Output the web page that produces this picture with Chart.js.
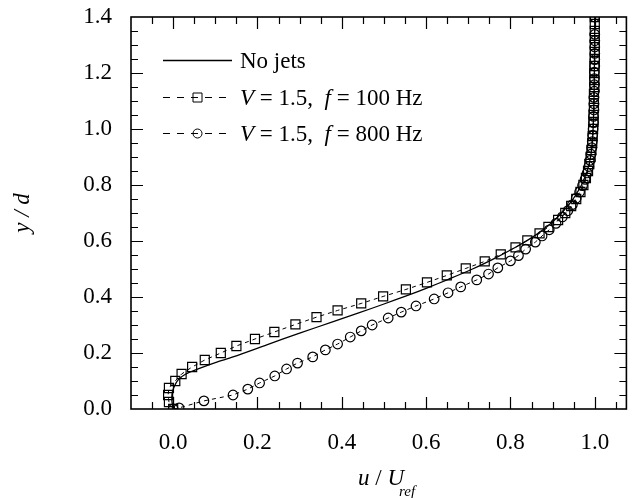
<!DOCTYPE html>
<html>
<head>
<meta charset="utf-8">
<script src="https://cdn.jsdelivr.net/npm/chart.js@4/dist/chart.umd.min.js"></script>
<style>
  html, body { margin: 0; padding: 0; background: #fff; }
  #wrap { width: 634px; height: 498px; }
</style>
</head>
<body>
<div id="wrap"><canvas id="profileChart" width="634" height="498"></canvas></div>
<script>
// tick labels
const xTicks = [0.0, 0.2, 0.4, 0.6, 0.8, 1.0];
const yTicks = [0.0, 0.2, 0.4, 0.6, 0.8, 1.0, 1.2, 1.4];

// No jets (solid line)
const noJetsU = [0.000, -0.003, -0.002, 0.004, 0.012, 0.030, 0.064, 0.100, 0.142, 0.222, 0.300, 0.378, 0.440, 0.500, 0.553, 0.600, 0.654, 0.710, 0.765, 0.810, 0.843, 0.870, 0.895, 0.915, 0.930, 0.945, 0.955, 0.965, 0.972, 0.983, 0.990, 0.994, 0.996, 0.998, 0.999, 1.000];
const noJetsY = [0.000, 0.030, 0.060, 0.085, 0.104, 0.125, 0.146, 0.166, 0.186, 0.229, 0.271, 0.311, 0.343, 0.375, 0.404, 0.431, 0.464, 0.500, 0.540, 0.576, 0.605, 0.632, 0.662, 0.690, 0.715, 0.742, 0.765, 0.790, 0.812, 0.855, 0.900, 0.950, 1.000, 1.100, 1.200, 1.400];

// V = 1.5, f = 100 Hz (squares)
const f100U = [0.000, -0.010, -0.012, -0.010, 0.005, 0.020, 0.045, 0.075, 0.113, 0.150, 0.194, 0.240, 0.290, 0.340, 0.390, 0.446, 0.498, 0.552, 0.602, 0.649, 0.694, 0.739, 0.777, 0.812, 0.840, 0.869, 0.890, 0.913, 0.930, 0.944, 0.956, 0.966, 0.973, 0.979, 0.984, 0.987, 0.990, 0.992, 0.994, 0.995, 0.996, 0.997, 0.997, 0.998, 0.998, 0.998, 0.999, 0.999, 0.999, 0.999, 1.000, 1.000, 1.000, 1.000, 1.000, 1.000, 1.000];
const f100Y = [0.000, 0.025, 0.050, 0.075, 0.100, 0.125, 0.150, 0.175, 0.200, 0.225, 0.250, 0.275, 0.302, 0.328, 0.352, 0.377, 0.402, 0.427, 0.452, 0.477, 0.502, 0.527, 0.552, 0.577, 0.602, 0.627, 0.650, 0.675, 0.700, 0.725, 0.750, 0.775, 0.800, 0.825, 0.850, 0.875, 0.900, 0.925, 0.950, 0.975, 1.000, 1.025, 1.050, 1.075, 1.100, 1.125, 1.150, 1.175, 1.200, 1.225, 1.250, 1.275, 1.300, 1.325, 1.350, 1.375, 1.400];

// V = 1.5, f = 800 Hz (circles)
const f800U = [0.000, 0.014, 0.073, 0.142, 0.177, 0.205, 0.241, 0.269, 0.295, 0.331, 0.361, 0.390, 0.420, 0.446, 0.472, 0.510, 0.541, 0.576, 0.619, 0.652, 0.682, 0.720, 0.748, 0.770, 0.800, 0.819, 0.836, 0.859, 0.875, 0.892, 0.908, 0.923, 0.936, 0.947, 0.956, 0.964, 0.971, 0.977, 0.982, 0.986, 0.989, 0.991, 0.993, 0.994, 0.995, 0.996, 0.997, 0.997, 0.998, 0.998, 0.998, 0.999, 0.999, 0.999, 0.999, 1.000, 1.000, 1.000, 1.000, 1.000, 1.000, 1.000];
const f800Y = [0.000, 0.004, 0.029, 0.050, 0.071, 0.093, 0.118, 0.143, 0.164, 0.186, 0.211, 0.232, 0.257, 0.279, 0.300, 0.325, 0.346, 0.368, 0.393, 0.415, 0.436, 0.461, 0.482, 0.504, 0.529, 0.548, 0.571, 0.596, 0.618, 0.640, 0.663, 0.686, 0.708, 0.730, 0.753, 0.775, 0.798, 0.820, 0.843, 0.866, 0.888, 0.910, 0.933, 0.955, 0.978, 1.000, 1.023, 1.045, 1.068, 1.090, 1.113, 1.135, 1.158, 1.180, 1.203, 1.225, 1.248, 1.270, 1.293, 1.315, 1.338, 1.400];

const legendLabels = ["No jets", "100 Hz", "800 Hz"];

const SERIF = "'Liberation Serif', 'Times New Roman', serif";

function toPoints(us, ys) {
  return us.map((u, i) => ({ x: u, y: ys[i] }));
}

// box + inward ticks on all four sides
const frameTicks = {
  id: "frameTicks",
  afterDraw(chart) {
    const ctx = chart.ctx;
    const a = chart.chartArea;
    const xs = chart.scales.x;
    const ys = chart.scales.y;
    ctx.save();
    ctx.strokeStyle = "#000";
    ctx.lineWidth = 1.6;
    ctx.strokeRect(a.left, a.top, a.right - a.left, a.bottom - a.top);
    ctx.lineWidth = 1.2;
    ctx.beginPath();
    for (let v = -0.1; v <= 1.0751; v += 0.05) {
      const val = Math.round(v * 100) / 100;
      const major = xTicks.some(t => Math.abs(t - val) < 1e-6);
      const len = major ? 12 : 7;
      const px = Math.round(xs.getPixelForValue(val)) + 0.5;
      if (px <= a.left + 1 || px >= a.right - 1) continue;
      ctx.moveTo(px, a.bottom); ctx.lineTo(px, a.bottom - len);
      ctx.moveTo(px, a.top); ctx.lineTo(px, a.top + len);
    }
    for (let v = 0; v <= 1.4001; v += 0.05) {
      const val = Math.round(v * 100) / 100;
      const major = yTicks.some(t => Math.abs(t - val) < 1e-6);
      const len = major ? 12 : 7;
      const py = Math.round(ys.getPixelForValue(val)) + 0.5;
      if (py <= a.top + 1 || py >= a.bottom - 1) continue;
      ctx.moveTo(a.left, py); ctx.lineTo(a.left + len, py);
      ctx.moveTo(a.right, py); ctx.lineTo(a.right - len, py);
    }
    ctx.stroke();
    ctx.restore();
  }
};

// legend + x title drawn with mixed italic text
const textBits = {
  id: "textBits",
  afterDraw(chart) {
    const ctx = chart.ctx;
    ctx.save();
    ctx.fillStyle = "#000";
    ctx.strokeStyle = "#000";
    ctx.textBaseline = "alphabetic";
    ctx.textAlign = "left";

    const x0 = 163, x1 = 232, tx = 240;
    const rows = [60, 97, 133];

    // row 1: solid
    ctx.lineWidth = 1.3;
    ctx.setLineDash([]);
    ctx.beginPath(); ctx.moveTo(x0, rows[0] + 0.5); ctx.lineTo(x1, rows[0] + 0.5); ctx.stroke();

    // rows 2, 3: dashed with marker
    for (let r = 1; r < 3; r++) {
      const y = rows[r] + 0.5;
      ctx.lineWidth = 1;
      ctx.setLineDash([7, 7]);
      ctx.beginPath(); ctx.moveTo(x0, y); ctx.lineTo(x1, y); ctx.stroke();
      ctx.setLineDash([]);
      const cx = (x0 + x1) / 2;
      ctx.beginPath();
      if (r === 1) ctx.rect(cx - 4.5, y - 4.5, 9, 9);
      else ctx.arc(cx, y, 4.5, 0, Math.PI * 2);
      ctx.stroke();
    }

    const up = "23px " + SERIF;
    const it = "italic 23px " + SERIF;
    ctx.font = up;
    ctx.fillText(legendLabels[0], tx, rows[0] + 8);

    function parts(list, x, y) {
      list.forEach(([txt, font]) => {
        ctx.font = font;
        ctx.fillText(txt, x, y);
        x += ctx.measureText(txt).width;
      });
    }
    parts([["V", it], [" = 1.5,  ", up], ["f", it], [" = " + legendLabels[1], up]], tx, rows[1] + 8);
    parts([["V", it], [" = 1.5,  ", up], ["f", it], [" = " + legendLabels[2], up]], tx, rows[2] + 8);

    // x axis title: u / U_ref
    parts([["u", it], [" / ", up], ["U", it]], 358, 485);
    ctx.font = "italic 15px " + SERIF;
    ctx.fillText("ref", 399, 496);

    ctx.restore();
  }
};

const ctx = document.getElementById("profileChart").getContext("2d");

const profileChart = new Chart(ctx, {
  type: "scatter",
  data: {
    datasets: [
      {
        label: legendLabels[0],
        data: toPoints(noJetsU, noJetsY),
        showLine: true,
        borderColor: "#000",
        borderWidth: 1.3,
        pointRadius: 0,
        tension: 0.3,
      },
      {
        label: legendLabels[1],
        data: toPoints(f100U, f100Y),
        showLine: true,
        borderColor: "#000",
        borderWidth: 1,
        borderDash: [4, 4],
        pointStyle: "rect",
        pointRadius: 6.4,
        pointBorderWidth: 1.2,
        pointBorderColor: "#000",
        pointBackgroundColor: "rgba(0,0,0,0)",
      },
      {
        label: legendLabels[2],
        data: toPoints(f800U, f800Y),
        showLine: true,
        borderColor: "#000",
        borderWidth: 1,
        borderDash: [4, 4],
        pointStyle: "circle",
        pointRadius: 4.8,
        pointBorderWidth: 1.2,
        pointBorderColor: "#000",
        pointBackgroundColor: "rgba(0,0,0,0)",
      },
    ],
  },
  options: {
    responsive: false,
    animation: false,
    layout: { padding: { top: 17, right: 5, left: 0, bottom: 0 } },
    plugins: {
      legend: { display: false },
      tooltip: { enabled: false },
    },
    scales: {
      x: {
        type: "linear",
        min: -0.1,
        max: 1.075,
        grid: { display: false, drawTicks: false },
        border: { display: false },
        afterBuildTicks: (scale) => { scale.ticks = xTicks.map(v => ({ value: v })); },
        afterFit: (scale) => {
          scale.height = 89;
          scale.paddingLeft = 0;
          scale.paddingRight = 0;
        },
        ticks: {
          color: "#000",
          padding: 20,
          maxRotation: 0,
          font: { family: SERIF, size: 23 },
          callback: (v) => Number(v).toFixed(1),
        },
      },
      y: {
        type: "linear",
        min: 0,
        max: 1.4,
        grid: { display: false, drawTicks: false },
        border: { display: false },
        afterBuildTicks: (scale) => { scale.ticks = yTicks.map(v => ({ value: v })); },
        afterFit: (scale) => {
          scale.width = 131;
          scale.paddingTop = 0;
          scale.paddingBottom = 0;
        },
        title: {
          display: true,
          text: "y / d",
          color: "#000",
          font: { family: SERIF, size: 23, style: "italic" },
          padding: { top: 9, bottom: 0 },
        },
        ticks: {
          color: "#000",
          padding: 19,
          font: { family: SERIF, size: 23 },
          callback: (v) => Number(v).toFixed(1),
        },
      },
    },
  },
  plugins: [frameTicks, textBits],
});
</script>
</body>
</html>
